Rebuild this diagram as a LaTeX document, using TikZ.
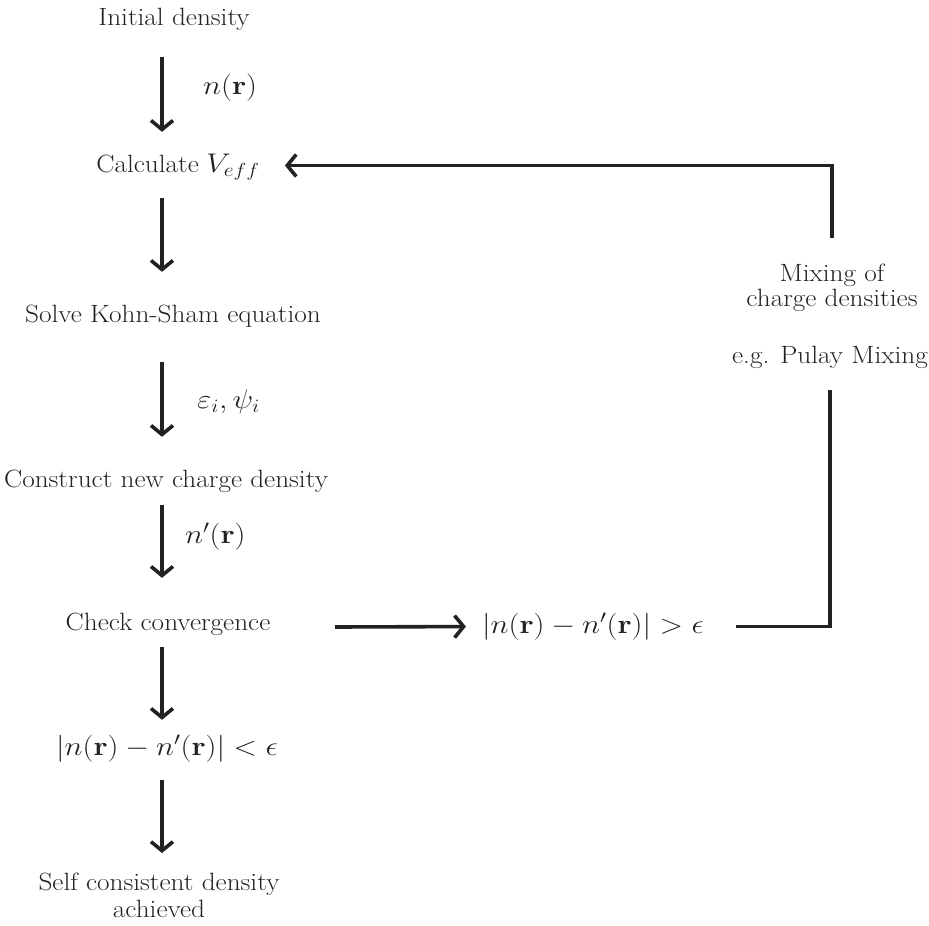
\RequirePackage{fix-cm}
\documentclass[tikz,border=0pt]{standalone}
\usetikzlibrary{arrows.meta,calc}
\definecolor{ink}{HTML}{222222}
\newcommand\textwide[1]{\scalebox{1.09}[1]{#1}}
\newcommand\mathwide[1]{\scalebox{1.14}[1]{\fontsize{27}{27}\selectfont$#1$}}
\tikzset{
  txt/.style={inner sep=0pt, anchor=base, text=ink,
    font=\fontsize{25}{25}\selectfont, text height=18pt, text depth=5pt},
  multi/.style={inner sep=0pt, anchor=north, text=ink, align=center},
  lbl/.style={inner sep=0pt, anchor=west, text=ink, font=\fontsize{25}{25}\selectfont},
  conn/.style={draw=ink, line width=3.6pt},
  arr/.style={conn, -{Straight Barb[length=9pt,width=22pt]}},
}
\begin{document}
\begin{tikzpicture}[x=1pt,y=-1pt]
\useasboundingbox (0,0) rectangle (929,926);
% main column
\coordinate (col) at (162,0);
\node[txt] (init)  at (174,25)  {\textwide{Initial density}};
\node[txt] (calc)  at (178,172) {\textwide{Calculate} \mathwide{V_{eff}}};
\node[txt] (solve) at (173,322) {\textwide{Solve Kohn-Sham equation}};
\node[txt] (cons)  at (166,487) {\textwide{Construct new charge density}};
\node[txt] (conv)  at (168,630) {\textwide{Check convergence}};
\node[txt] (lt)    at (167,755) {\mathwide{|n(\mathbf{r})-n'(\mathbf{r})|<\epsilon}};
\node[multi, font=\fontsize{25}{27}\selectfont] (sc) at (159,873) {\textwide{Self consistent density}\\\textwide{achieved}};
% right side
\node[txt] (gt)    at (593,633) {\mathwide{|n(\mathbf{r})-n'(\mathbf{r})|>\epsilon}};
\node[multi, font=\fontsize{25}{25}\selectfont] (mix) at (832,264) {\textwide{Mixing of}\\\textwide{charge densities}};
\node[txt] (pulay) at (830,363) {\textwide{e.g. Pulay Mixing}};
% labels
\node[lbl] (l1) at (203,88)  {\mathwide{n(\mathbf{r})}};
\node[lbl] (l2) at (197,402) {\mathwide{\varepsilon_i,\psi_i}};
\node[lbl] (l3) at (185,537) {\mathwide{n'(\mathbf{r})}};
% vertical arrows
\draw[arr, shorten <=27pt, shorten >=22pt] (init.south -| col) -- (calc.north -| col);
\draw[arr, shorten <=21pt, shorten >=32pt] (calc.south -| col) -- (solve.north -| col);
\draw[arr, shorten <=35pt, shorten >=32pt] (solve.south -| col) -- (cons.north -| col);
\draw[arr, shorten <=13pt, shorten >=34pt] (cons.south -| col) -- (conv.north -| col);
\draw[arr, shorten <=12pt, shorten >=17pt] (conv.south -| col) -- (lt.north -| col);
\draw[arr, shorten <=20pt, shorten >=20pt] (lt.south -| col) -- (sc.north -| col);
% convergence branch
\coordinate (hs) at (335,627);
\draw[arr, shorten >=16pt] (hs) -- (gt.west);
\draw[conn, shorten <=32pt, shorten >=22pt] (gt.east) -| (pulay.south);
\draw[arr, shorten <=26pt, shorten >=25pt] (mix.north) |- (calc.east);
\end{tikzpicture}
\end{document}
